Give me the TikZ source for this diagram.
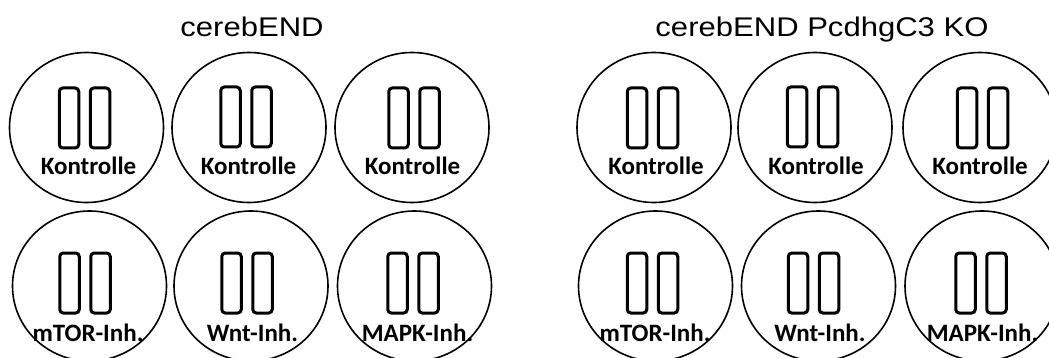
\documentclass[tikz,border=0pt]{standalone}
\usepackage{fontspec}
\setmainfont{Liberation Sans}
\newfontfamily\titlefont[FakeStretch=1.15]{Liberation Sans}
\newfontfamily\labelfont{Carlito}
\usetikzlibrary{shapes.geometric}
\tikzset{
  dish/.style={ellipse, draw, line width=1.6pt, minimum width=154pt, minimum height=150pt, inner sep=0pt},
  well/.style={rectangle, draw, line width=3pt, rounded corners=3.5pt, minimum width=19.5pt, minimum height=60pt, inner sep=0pt},
  lbl/.style={font=\labelfont\bfseries\fontsize{25}{25}\selectfont, anchor=base, inner sep=0pt},
  ttl/.style={font=\titlefont\fontsize{27}{27}\selectfont, anchor=base, inner sep=0pt}
}
% name, cx, cy, wellx, welly, labelx, baseline, text
\newcommand{\dishcell}[8]{%
  \node[dish] (#1) at (#2,#3) {};
  \node[well] (#1L) at (#4-15.5,#5) {};
  \node[well] (#1R) at (#4+15.5,#5) {};
  \node[lbl] (#1T) at (#6,#7) {#8};
}
\begin{document}
\begin{tikzpicture}[x=1pt,y=-1pt]
\useasboundingbox (0,0) rectangle (1049,358);
\node[ttl] (t1) at (252,37) {cerebEND};
\node[ttl] (t2) at (822,37) {cerebEND PcdhgC3 KO};
% top row
\dishcell{a1}{86.5}{127.5}{84.5}{118}{88.5}{175}{Kontrolle}
\dishcell{a2}{249}{127.5}{246}{117}{248.5}{175}{Kontrolle}
\dishcell{a3}{412}{127.5}{414}{118}{412.5}{175}{Kontrolle}
\dishcell{b1}{654}{127.5}{652.5}{118}{656}{175}{Kontrolle}
\dishcell{b2}{815}{127.5}{812.5}{117}{816}{175}{Kontrolle}
\dishcell{b3}{980}{127.5}{982.5}{118}{980}{175}{Kontrolle}
% bottom row
\dishcell{c1}{89.5}{286}{85}{283}{88}{341}{mTOR-Inh.}
\dishcell{c2}{251}{286}{247}{283}{252.5}{341}{Wnt-Inh.}
\dishcell{c3}{414.5}{286}{413}{283}{417.5}{341}{MAPK-Inh.}
\dishcell{d1}{655.5}{286}{652.5}{283}{655}{341}{mTOR-Inh.}
\dishcell{d2}{818.5}{286}{813.5}{283}{820}{341}{Wnt-Inh.}
\dishcell{d3}{982}{286}{981}{283}{982.5}{341}{MAPK-Inh.}
\end{tikzpicture}
\end{document}
